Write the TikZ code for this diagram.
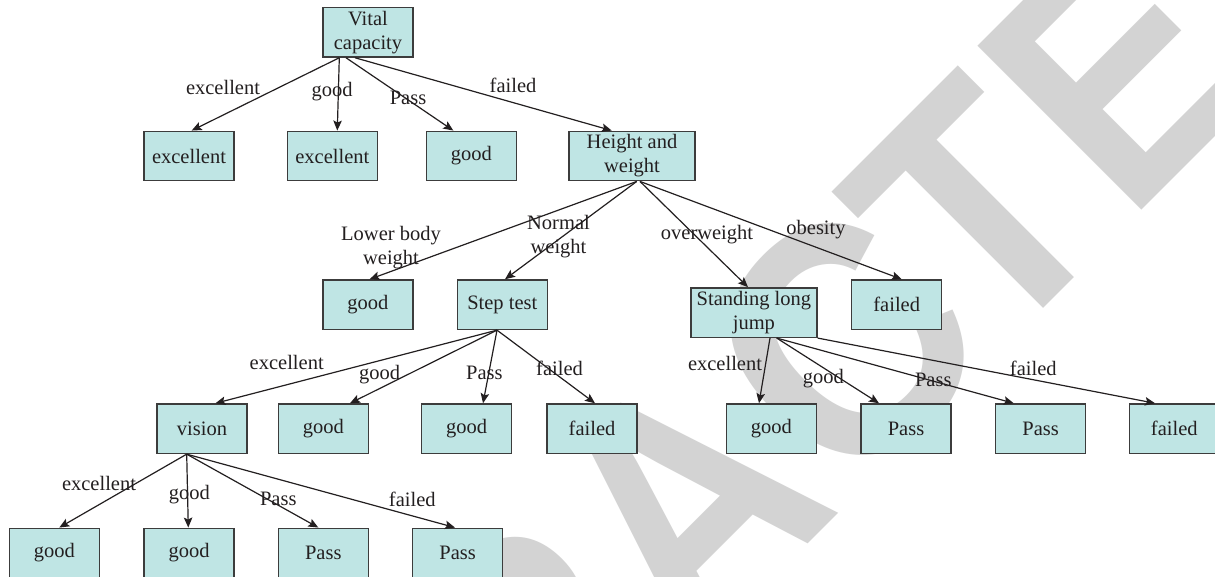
\documentclass[tikz,border=0pt]{standalone}
\usepackage{fontspec}
\setmainfont{Liberation Serif}
\newfontfamily\wmfont{Liberation Sans}
\usetikzlibrary{arrows.meta}
\definecolor{boxfill}{RGB}{191,229,228}
\definecolor{boxline}{RGB}{60,60,60}
\definecolor{ink}{RGB}{35,31,32}
\definecolor{wm}{RGB}{211,211,211}
\tikzset{
  box/.style={draw=boxline, line width=1.4pt, fill=boxfill, minimum width=90pt,
    minimum height=49.5pt, inner sep=0pt, align=center, text=ink,
    font=\fontsize{20.5}{24}\selectfont},
  wide/.style={minimum width=126pt},
  lbl/.style={inner sep=0pt, text=ink, align=center, font=\fontsize{20.5}{24}\selectfont},
  edge/.style={draw=ink, line width=1.2pt, -{Stealth[length=10pt,width=8.5pt,inset=2pt]}},
  wmletter/.style={inner sep=0pt, anchor=base west, rotate=45, text=wm,
    font=\wmfont\bfseries\fontsize{337}{337}\selectfont}
}
\newcommand{\wmsq}[1]{\scalebox{0.9}[1]{#1}}
\begin{document}
\begin{tikzpicture}[x=1pt,y=-1pt]
\useasboundingbox (0,0) rectangle (1215,576);
\clip (0,0) rectangle (1215,576);
\fill[white] (0,0) rectangle (1215,576);
% watermark
\node[wmletter] (wmR) at (534.6,817.4) {\wmsq{R}};
\node[wmletter] (wmA) at (689.4,662.6) {\wmsq{A}};
\node[wmletter] (wmC) at (848.2,503.8) {\wmsq{C}};
\node[wmletter] (wmT) at (993.5,358.5) {\wmsq{T}};
\node[wmletter] (wmE) at (1127.8,224.2) {\wmsq{E}};
% row 1
\node[box] (vc) at (368,32.3) {Vital\\capacity};
% row 2
\node[box] (exa) at (189,156) {excellent};
\node[box] (exb) at (332.3,156) {excellent};
\node[box] (gda) at (471.3,156) {good};
\node[box,wide] (hw) at (632,156) {Height and\\weight};
% row 3
\node[box] (gdb) at (367.9,304.7) {good};
\node[box] (st) at (502.3,304.7) {Step test};
\node[box,wide] (slj) at (753.9,312.6) {Standing long\\jump};
\node[box] (fla) at (896.7,304.7) {failed};
% row 4
\node[box] (vis) at (202,428.7) {vision};
\node[box] (gdc) at (323.3,428.7) {good};
\node[box] (gdd) at (466.7,428.7) {good};
\node[box] (flb) at (592,428.7) {failed};
\node[box] (gde) at (771.3,428.7) {good};
\node[box] (psa) at (906,428.7) {Pass};
\node[box] (psb) at (1040.7,428.7) {Pass};
\node[box] (flc) at (1174.3,428.7) {failed};
% row 5
\node[box] (gdf) at (54.3,553) {good};
\node[box] (gdg) at (189,553) {good};
\node[box] (psc) at (323.3,553) {Pass};
\node[box] (psd) at (457.7,553) {Pass};
% edges from Vital capacity
\draw[edge] ([xshift=-28.7pt]vc.south) -- ([xshift=2.7pt]exa.north);
\draw[edge] ([xshift=-28.7pt]vc.south) -- ([xshift=5pt]exb.north);
\draw[edge] ([xshift=-22pt]vc.south) -- ([xshift=-18pt]gda.north);
\draw[edge] ([xshift=-13pt]vc.south) -- ([xshift=-20.3pt]hw.north);
% edges from Height and weight
\draw[edge] ([xshift=4.7pt]hw.south) -- ([xshift=1.7pt]gdb.north);
\draw[edge] ([xshift=4.7pt]hw.south) -- ([xshift=2.7pt]st.north);
\draw[edge] ([xshift=8pt]hw.south) -- ([xshift=-5.9pt]slj.north);
\draw[edge] ([xshift=8pt]hw.south) -- ([xshift=5pt]fla.north);
% edges from Step test
\draw[edge] ([xshift=-5.3pt]st.south) -- ([xshift=13.5pt]vis.north);
\draw[edge] ([xshift=-5.3pt]st.south) -- ([xshift=26.7pt]gdc.north);
\draw[edge] ([xshift=-5.3pt]st.south) -- ([xshift=16.3pt]gdd.north);
\draw[edge] ([xshift=-5.3pt]st.south) -- ([xshift=3pt]flb.north);
% edges from Standing long jump
\draw[edge] ([xshift=16.1pt]slj.south) -- ([xshift=-12.3pt]gde.north);
\draw[edge] ([xshift=22.8pt]slj.south) -- ([xshift=-27pt]psa.north);
\draw[edge] ([xshift=22.8pt]slj.south) -- ([xshift=-27pt]psb.north);
\draw[edge] (slj.south east) -- ([xshift=-19.3pt]flc.north);
% edges from vision
\draw[edge] ([xshift=-15.3pt]vis.south) -- ([xshift=5pt]gdf.north);
\draw[edge] ([xshift=-15.3pt]vis.south) -- ([xshift=-0.7pt]gdg.north);
\draw[edge] ([xshift=-15.3pt]vis.south) -- ([xshift=-5pt]psc.north);
\draw[edge] ([xshift=-15.3pt]vis.south) -- ([xshift=-2.7pt]psd.north);
% labels
\node[lbl] (l1a) at (223,87) {excellent};
\node[lbl] (l1b) at (332,92) {good};
\node[lbl] (l1c) at (408,98) {Pass};
\node[lbl] (l1d) at (513,85) {failed};
\node[lbl] (l2a) at (391,247.5) {Lower body\\weight};
\node[lbl] (l2b) at (558.5,236.7) {Normal\\weight};
\node[lbl] (l2c) at (707,235) {overweight};
\node[lbl] (l2d) at (816,230) {obesity};
\node[lbl] (l3a) at (286.7,362.7) {excellent};
\node[lbl] (l3b) at (379.6,375) {good};
\node[lbl] (l3c) at (484.4,373.3) {Pass};
\node[lbl] (l3d) at (559.5,368.3) {failed};
\node[lbl] (l4a) at (725,363.3) {excellent};
\node[lbl] (l4b) at (823.3,378.3) {good};
\node[lbl] (l4c) at (933.3,380) {Pass};
\node[lbl] (l4d) at (1033.3,368.3) {failed};
\node[lbl] (l5a) at (99,483.3) {excellent};
\node[lbl] (l5b) at (189.3,495) {good};
\node[lbl] (l5c) at (278.3,499.3) {Pass};
\node[lbl] (l5d) at (412.3,499.3) {failed};
\end{tikzpicture}
\end{document}
